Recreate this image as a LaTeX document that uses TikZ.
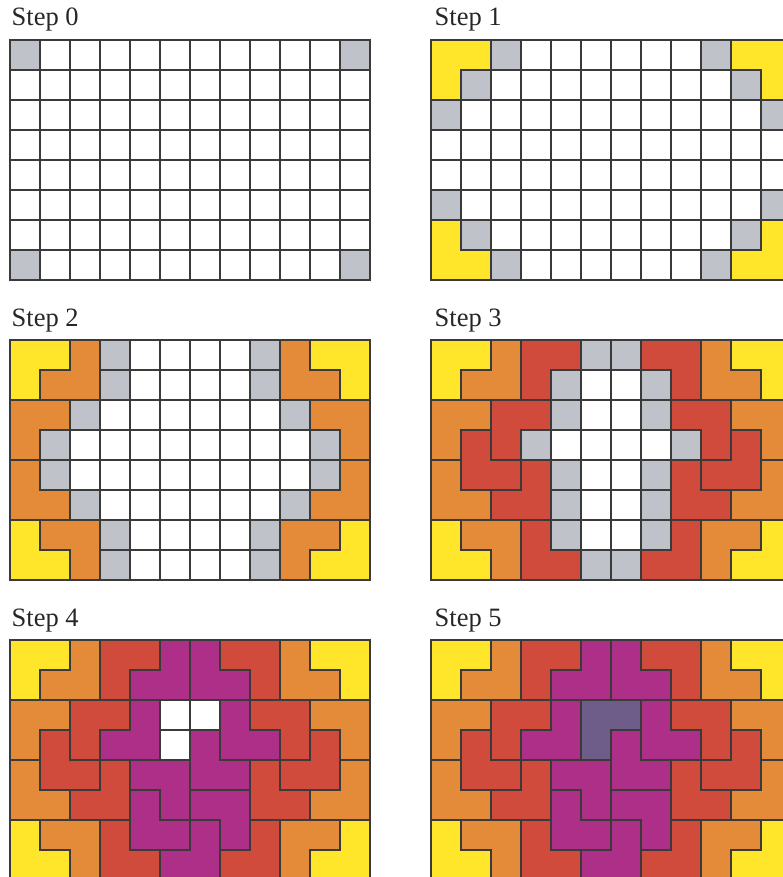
\documentclass[tikz,border=0pt]{standalone}
\usepackage{fontspec}
\setmainfont{Liberation Serif}
\definecolor{cgrey}{HTML}{C0C2CA}
\definecolor{cyel}{HTML}{FFE62B}
\definecolor{cora}{HTML}{E38B38}
\definecolor{cred}{HTML}{D14B3D}
\definecolor{cmag}{HTML}{AD2F87}
\definecolor{cpur}{HTML}{6E5C89}
\definecolor{lineclr}{HTML}{3A3A3A}
\tikzset{
  piece/.style={draw=lineclr, line width=1.1pt, line join=miter},
  lbl/.style={anchor=base west, inner sep=0pt, text=black!85, font=\fontsize{26.5}{30}\selectfont},
  board/.style={x=30pt, y=-30pt},
}
\newcommand\LmTL[3]{\filldraw[piece,fill=#1,shift={(#2,#3)}] (1,0) -- (2,0) -- (2,2) -- (0,2) -- (0,1) -- (1,1) -- cycle;}
\newcommand\LmTR[3]{\filldraw[piece,fill=#1,shift={(#2,#3)}] (0,0) -- (1,0) -- (1,1) -- (2,1) -- (2,2) -- (0,2) -- cycle;}
\newcommand\LmBR[3]{\filldraw[piece,fill=#1,shift={(#2,#3)}] (0,0) -- (2,0) -- (2,1) -- (1,1) -- (1,2) -- (0,2) -- cycle;}
\newcommand\LmBL[3]{\filldraw[piece,fill=#1,shift={(#2,#3)}] (0,0) -- (2,0) -- (2,2) -- (1,2) -- (1,1) -- (0,1) -- cycle;}
\newcommand\OneCell[3]{\filldraw[piece,fill=#1,shift={(#2,#3)}] (0,0) rectangle (1,1);}
\newcommand\BaseGrid{%
  \filldraw[piece,fill=white] (0,0) rectangle (12,8);
  \foreach \i in {1,...,11} {\draw[piece] (\i,0) -- (\i,8);}
  \foreach \j in {1,...,7} {\draw[piece] (0,\j) -- (12,\j);}}
\newcommand\PcsYel{\LmBR{cyel}{0}{0}\LmTR{cyel}{0}{6}\LmBL{cyel}{10}{0}\LmTL{cyel}{10}{6}}
\newcommand\PcsOra{\LmTL{cora}{1}{0}\LmBR{cora}{0}{2}\LmTR{cora}{0}{4}\LmBL{cora}{1}{6}%
  \LmTR{cora}{9}{0}\LmBL{cora}{10}{2}\LmTL{cora}{10}{4}\LmBR{cora}{9}{6}}
\newcommand\PcsRed{\LmBR{cred}{3}{0}\LmBR{cred}{2}{2}\LmTR{cred}{1}{3}\LmTL{cred}{2}{4}\LmTR{cred}{3}{6}%
  \LmBL{cred}{7}{0}\LmBL{cred}{8}{2}\LmTL{cred}{9}{3}\LmTR{cred}{8}{4}\LmTL{cred}{7}{6}}
\newcommand\PcsMag{\LmTL{cmag}{4}{0}\LmTR{cmag}{6}{0}\LmTL{cmag}{3}{2}\LmTR{cmag}{7}{2}\LmTR{cmag}{6}{3}%
  \LmBL{cmag}{4}{4}\LmTR{cmag}{4}{5}\LmBL{cmag}{6}{5}\LmTL{cmag}{5}{6}}
\begin{document}
\begin{tikzpicture}[x=1pt,y=-1pt]
\useasboundingbox (0,0) rectangle (783,877);
\clip (0,0) rectangle (783,877);
% labels
\node[lbl] (s0) at (11.5,26) {Step 0};
\node[lbl] (s1) at (434.5,26) {Step 1};
\node[lbl] (s2) at (11.5,326) {Step 2};
\node[lbl] (s3) at (434.5,326) {Step 3};
\node[lbl] (s4) at (11.5,626) {Step 4};
\node[lbl] (s5) at (434.5,626) {Step 5};
% Step 0
\begin{scope}[shift={(10pt,-40pt)},board]
  \BaseGrid
  \foreach \c/\r in {0/0,11/0,0/7,11/7} {\OneCell{cgrey}{\c}{\r}}
\end{scope}
% Step 1
\begin{scope}[shift={(431pt,-40pt)},board]
  \BaseGrid
  \foreach \c/\r in {2/0,1/1,0/2,9/0,10/1,11/2,0/5,1/6,2/7,11/5,10/6,9/7} {\OneCell{cgrey}{\c}{\r}}
  \PcsYel
\end{scope}
% Step 2
\begin{scope}[shift={(10pt,-340pt)},board]
  \BaseGrid
  \foreach \c/\r in {3/0,3/1,2/2,1/3,1/4,2/5,3/6,3/7,8/0,8/1,9/2,10/3,10/4,9/5,8/6,8/7} {\OneCell{cgrey}{\c}{\r}}
  \PcsYel \PcsOra
\end{scope}
% Step 3
\begin{scope}[shift={(431pt,-340pt)},board]
  \BaseGrid
  \foreach \c/\r in {5/0,6/0,4/1,7/1,4/2,7/2,3/3,8/3,4/4,7/4,4/5,7/5,4/6,7/6,5/7,6/7} {\OneCell{cgrey}{\c}{\r}}
  \PcsYel \PcsOra \PcsRed
\end{scope}
% Step 4
\begin{scope}[shift={(10pt,-640pt)},board]
  \BaseGrid
  \PcsYel \PcsOra \PcsRed \PcsMag
\end{scope}
% Step 5
\begin{scope}[shift={(431pt,-640pt)},board]
  \BaseGrid
  \PcsYel \PcsOra \PcsRed \PcsMag
  \LmBR{cpur}{5}{2}
\end{scope}
\end{tikzpicture}
\end{document}
